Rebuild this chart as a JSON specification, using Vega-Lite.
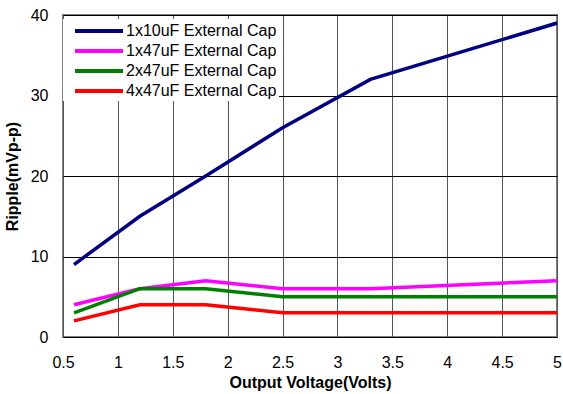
{
  "$schema": "https://vega.github.io/schema/vega-lite/v6.json",
  "width": 494,
  "height": 322,
  "autosize": {"type": "none"},
  "padding": {"left": 63, "top": 15, "right": 6, "bottom": 57},
  "background": "white",
  "config": {
    "font": "Liberation Sans",
    "view": {"stroke": "#808080", "strokeWidth": 2}
  },
  "data": {
    "values": [
      {"v": 0.6, "ripple": 9, "series": "1x10uF External Cap"},
      {"v": 1.2, "ripple": 15, "series": "1x10uF External Cap"},
      {"v": 1.8, "ripple": 20, "series": "1x10uF External Cap"},
      {"v": 2.5, "ripple": 26, "series": "1x10uF External Cap"},
      {"v": 3.3, "ripple": 32, "series": "1x10uF External Cap"},
      {"v": 5.0, "ripple": 39, "series": "1x10uF External Cap"},
      {"v": 0.6, "ripple": 4, "series": "1x47uF External Cap"},
      {"v": 1.2, "ripple": 6, "series": "1x47uF External Cap"},
      {"v": 1.8, "ripple": 7, "series": "1x47uF External Cap"},
      {"v": 2.5, "ripple": 6, "series": "1x47uF External Cap"},
      {"v": 3.3, "ripple": 6, "series": "1x47uF External Cap"},
      {"v": 5.0, "ripple": 7, "series": "1x47uF External Cap"},
      {"v": 0.6, "ripple": 3, "series": "2x47uF External Cap"},
      {"v": 1.2, "ripple": 6, "series": "2x47uF External Cap"},
      {"v": 1.8, "ripple": 6, "series": "2x47uF External Cap"},
      {"v": 2.5, "ripple": 5, "series": "2x47uF External Cap"},
      {"v": 3.3, "ripple": 5, "series": "2x47uF External Cap"},
      {"v": 5.0, "ripple": 5, "series": "2x47uF External Cap"},
      {"v": 0.6, "ripple": 2, "series": "4x47uF External Cap"},
      {"v": 1.2, "ripple": 4, "series": "4x47uF External Cap"},
      {"v": 1.8, "ripple": 4, "series": "4x47uF External Cap"},
      {"v": 2.5, "ripple": 3, "series": "4x47uF External Cap"},
      {"v": 3.3, "ripple": 3, "series": "4x47uF External Cap"},
      {"v": 5.0, "ripple": 3, "series": "4x47uF External Cap"}
    ]
  },
  "mark": {"type": "line", "strokeWidth": 3.5, "clip": true},
  "encoding": {
    "x": {
      "field": "v",
      "type": "quantitative",
      "scale": {"domain": [0.5, 5], "nice": false, "zero": false},
      "axis": {
        "title": "Output Voltage(Volts)",
        "values": [0.5, 1, 1.5, 2, 2.5, 3, 3.5, 4, 4.5, 5],
        "format": "~g",
        "ticks": false,
        "domain": false,
        "labelFlush": false,
        "labelPadding": 17,
        "labelFontSize": 16,
        "labelColor": "#000000",
        "titleFontSize": 16,
        "titleFontWeight": "bold",
        "titleColor": "#000000",
        "titlePadding": 4,
        "gridColor": "#555555",
        "gridOpacity": 1,
        "gridWidth": 1
      }
    },
    "y": {
      "field": "ripple",
      "type": "quantitative",
      "scale": {"domain": [0, 40], "nice": false},
      "axis": {
        "title": "Ripple(mVp-p)",
        "values": [0, 10, 20, 30, 40],
        "ticks": false,
        "domain": false,
        "labelPadding": 15,
        "labelFontSize": 16,
        "labelColor": "#000000",
        "titleFontSize": 16,
        "titleFontWeight": "bold",
        "titleColor": "#000000",
        "titlePadding": 10,
        "gridColor": "#000000",
        "gridOpacity": 1,
        "gridWidth": 1
      }
    },
    "color": {
      "field": "series",
      "type": "nominal",
      "scale": {
        "domain": ["1x10uF External Cap", "1x47uF External Cap", "2x47uF External Cap", "4x47uF External Cap"],
        "range": ["#000080", "#FF00FF", "#008000", "#FF0000"]
      },
      "legend": {
        "title": null,
        "orient": "none",
        "legendX": 0,
        "legendY": 4,
        "padding": 2,
        "fillColor": "white",
        "symbolType": "M0,0H6",
        "symbolSize": 256,
        "symbolStrokeWidth": 4,
        "labelFontSize": 16,
        "labelColor": "#000000",
        "labelOffset": 41,
        "rowPadding": 2
      }
    }
  }
}
